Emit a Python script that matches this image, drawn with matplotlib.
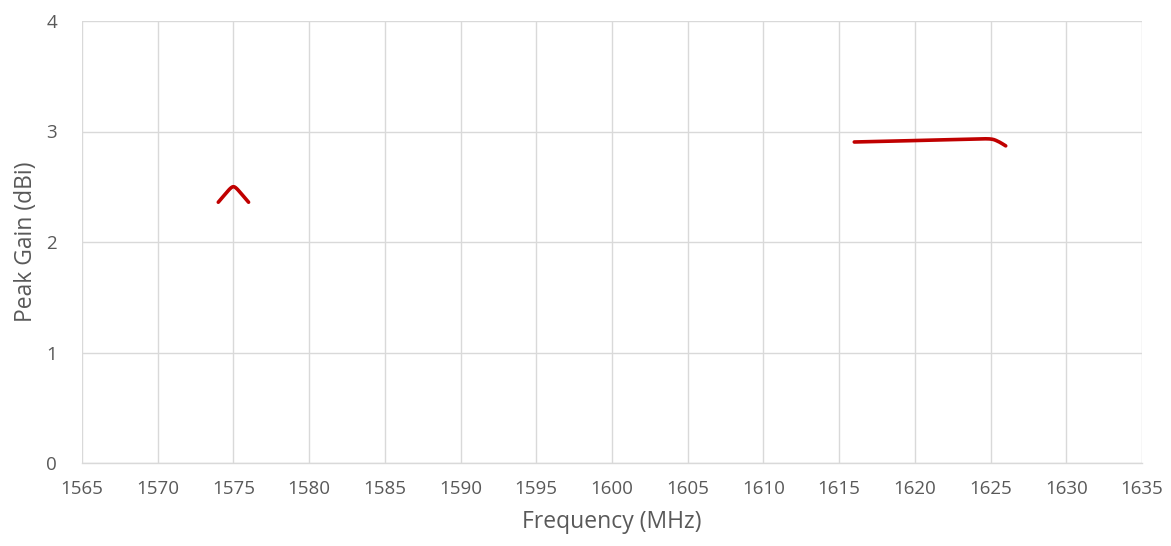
import matplotlib
matplotlib.use("Agg")
import matplotlib.pyplot as plt
import numpy as np

freq_l1 = [1574.0, 1574.5, 1574.8, 1575.0, 1575.2, 1575.5, 1576.0]
gain_l1 = [2.36, 2.44, 2.485, 2.50, 2.485, 2.44, 2.36]

freq_s = [1616, 1618, 1620, 1622, 1624, 1625, 1625.5, 1626]
gain_s = [2.905, 2.912, 2.918, 2.925, 2.932, 2.932, 2.91, 2.87]

xticks = list(range(1565, 1640, 5))
yticks = [0, 1, 2, 3, 4]

def smooth(x, y, n=20):
    # Catmull-Rom style smoothing (like Excel smoothed lines)
    x = np.asarray(x, float); y = np.asarray(y, float)
    P = np.column_stack([x, y])
    P = np.vstack([P[0], P, P[-1]])
    out = []
    for i in range(1, len(P) - 2):
        p0, p1, p2, p3 = P[i-1], P[i], P[i+1], P[i+2]
        t = np.linspace(0, 1, n)[:, None]
        pts = 0.5 * ((2*p1) + (-p0 + p2)*t + (2*p0 - 5*p1 + 4*p2 - p3)*t**2 + (-p0 + 3*p1 - 3*p2 + p3)*t**3)
        out.append(pts if i == len(P) - 3 else pts[:-1])
    pts = np.vstack(out)
    return pts[:, 0], pts[:, 1]

plt.rcParams['font.family'] = ['Open Sans', 'DejaVu Sans']
fig = plt.figure(figsize=(11.71, 5.46), dpi=100)
ax = fig.add_axes([82/1171, 1 - 463/546, (1142-82)/1171, (463-21)/546])

color = '#C00000'
for fx, gy in [(freq_l1, gain_l1), (freq_s, gain_s)]:
    sx, sy = smooth(fx, gy)
    ax.plot(sx, sy, color=color, lw=2.6, solid_capstyle='round')

ax.set_xlim(1565, 1635)
ax.set_ylim(0, 4)
ax.set_xticks(xticks)
ax.set_yticks(yticks)
ax.grid(True, color='#D9D9D9', lw=1)
ax.set_axisbelow(True)
for s in ['top', 'right']:
    ax.spines[s].set_visible(False)
ax.spines['left'].set_visible(False)
ax.spines['bottom'].set_color('#D9D9D9')
ax.spines['bottom'].set_linewidth(1)
ax.tick_params(length=0, labelsize=13.5, colors='#595959', pad=12)
ax.tick_params(axis='y', pad=18)
ax.set_xlabel('Frequency (MHz)', fontsize=16.5, color='#595959', labelpad=9)
ax.set_ylabel('Peak Gain (dBi)', fontsize=16.5, color='#595959', labelpad=6)

fig.savefig('out.png', dpi=100)
